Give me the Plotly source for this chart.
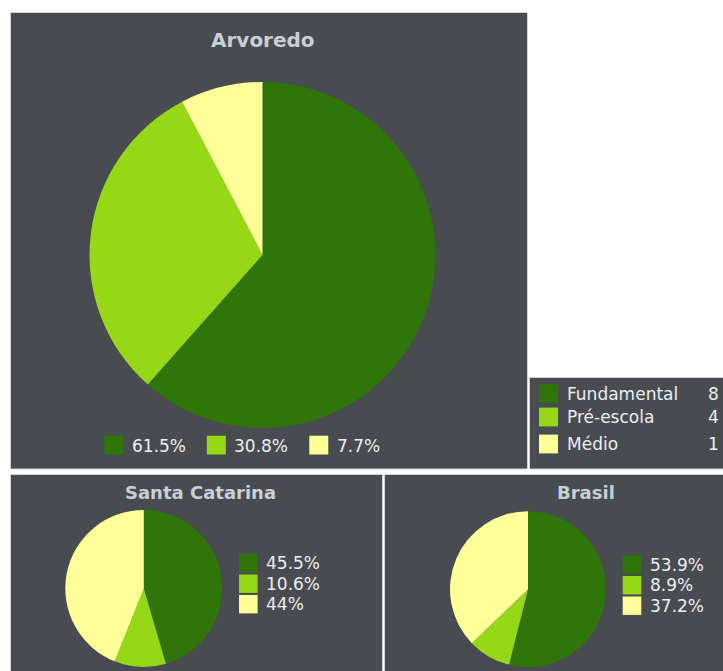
import plotly.graph_objects as go

# ---------------- data ----------------
categories = ["Fundamental", "Pré-escola", "Médio"]
arvoredo_counts = [8, 4, 1]
santa_catarina_pct = [45.5, 10.6, 44]
brasil_pct = [53.9, 8.9, 37.2]
slice_colors = ["#2f7509", "#97d816", "#ffff99"]

titles = ["Arvoredo", "Santa Catarina", "Brasil"]

# ---------------- layout constants ----------------
W, H = 723, 671
PANEL_BG = "#484b4f"
PANEL_LINE = "#d2d2d2"
TITLE_COLOR = "#c9cfd6"
TEXT_COLOR = "#eceff3"
FONT = "DejaVu Sans, Verdana, sans-serif"


def fmt_pct(v):
    return f"{round(v, 1):g}%"


arvoredo_total = sum(arvoredo_counts)
arvoredo_pct = [c * 100.0 / arvoredo_total for c in arvoredo_counts]


def dom(cx, cy, r):
    return dict(x=[(cx - r) / W, (cx + r) / W], y=[1 - (cy + r) / H, 1 - (cy - r) / H])


fig = go.Figure()

pies = [
    (arvoredo_counts, dom(262.5, 255, 173)),
    (santa_catarina_pct, dom(143.8, 588.4, 78.5)),
    (brasil_pct, dom(528, 589.2, 78)),
]
for vals, d in pies:
    fig.add_trace(go.Pie(
        labels=categories, values=vals, domain=d,
        sort=False, direction="clockwise", rotation=0,
        marker=dict(colors=slice_colors, line=dict(width=0)),
        textinfo="none", hoverinfo="label+percent", showlegend=False,
    ))

shapes = []
annotations = []


def rect(x0, y0, x1, y1, fill, line_color=None, lw=0, layer="below"):
    shapes.append(dict(type="rect", xref="x", yref="y", x0=x0, y0=y0, x1=x1, y1=y1,
                       fillcolor=fill, line=dict(color=line_color or fill, width=lw), layer=layer))


def text(x, y, s, size, color=TEXT_COLOR, anchor="left", bold=False):
    annotations.append(dict(xref="x", yref="y", x=x, y=y, text=f"<b>{s}</b>" if bold else s,
                            showarrow=False, xanchor=anchor, yanchor="middle",
                            font=dict(family=FONT, size=size, color=color)))


# panels
rect(10.5, 12.5, 527.5, 469, PANEL_BG, PANEL_LINE, 1)
rect(529.5, 377.5, 724, 469, PANEL_BG, PANEL_LINE, 1)
rect(10.5, 474.5, 382.5, 672, PANEL_BG, PANEL_LINE, 1)
rect(384.5, 474.5, 724, 672, PANEL_BG, PANEL_LINE, 1)

# titles
text(262.5, 40, titles[0], 20, TITLE_COLOR, "center", True)
text(200.3, 492, titles[1], 18, TITLE_COLOR, "center", True)
text(586, 492, titles[2], 18, TITLE_COLOR, "center", True)

# Arvoredo horizontal legend
for i, (p, c) in enumerate(zip(arvoredo_pct, slice_colors)):
    x0 = 104.3 + i * 102.5
    rect(x0, 435.7, x0 + 19, 454.5, c, layer="above")
    text(x0 + 25.5, 446, fmt_pct(p), 17)

# category legend with counts
row_y = [393.5, 417, 444]
for cat, cnt, c, y in zip(categories, arvoredo_counts, slice_colors, row_y):
    rect(539, y - 9.4, 558, y + 9.4, c, layer="above")
    text(565, y, cat, 17)
    text(721, y, str(cnt), 17, anchor="right")

# small legends
for vals, sx, tx, y0 in [(santa_catarina_pct, 239, 264, 563.2), (brasil_pct, 622.7, 648, 564.7)]:
    for i, (v, c) in enumerate(zip(vals, slice_colors)):
        y = y0 + i * 20.5
        rect(sx, y - 9.2, sx + 18.6, y + 9.2, c, layer="above")
        text(tx, y, fmt_pct(v), 17)

fig.update_layout(
    width=W, height=H, margin=dict(l=0, r=0, t=0, b=0),
    paper_bgcolor="white", plot_bgcolor="rgba(0,0,0,0)",
    xaxis=dict(range=[0, W], visible=False, fixedrange=True),
    yaxis=dict(range=[H, 0], visible=False, fixedrange=True),
    shapes=shapes, annotations=annotations,
    showlegend=False,
)

fig.write_html(
    "out.html",
    config={"displayModeBar": False},
    post_script="document.body.style.margin='0';document.body.style.padding='0';"
                "document.body.style.overflow='hidden';",
)
